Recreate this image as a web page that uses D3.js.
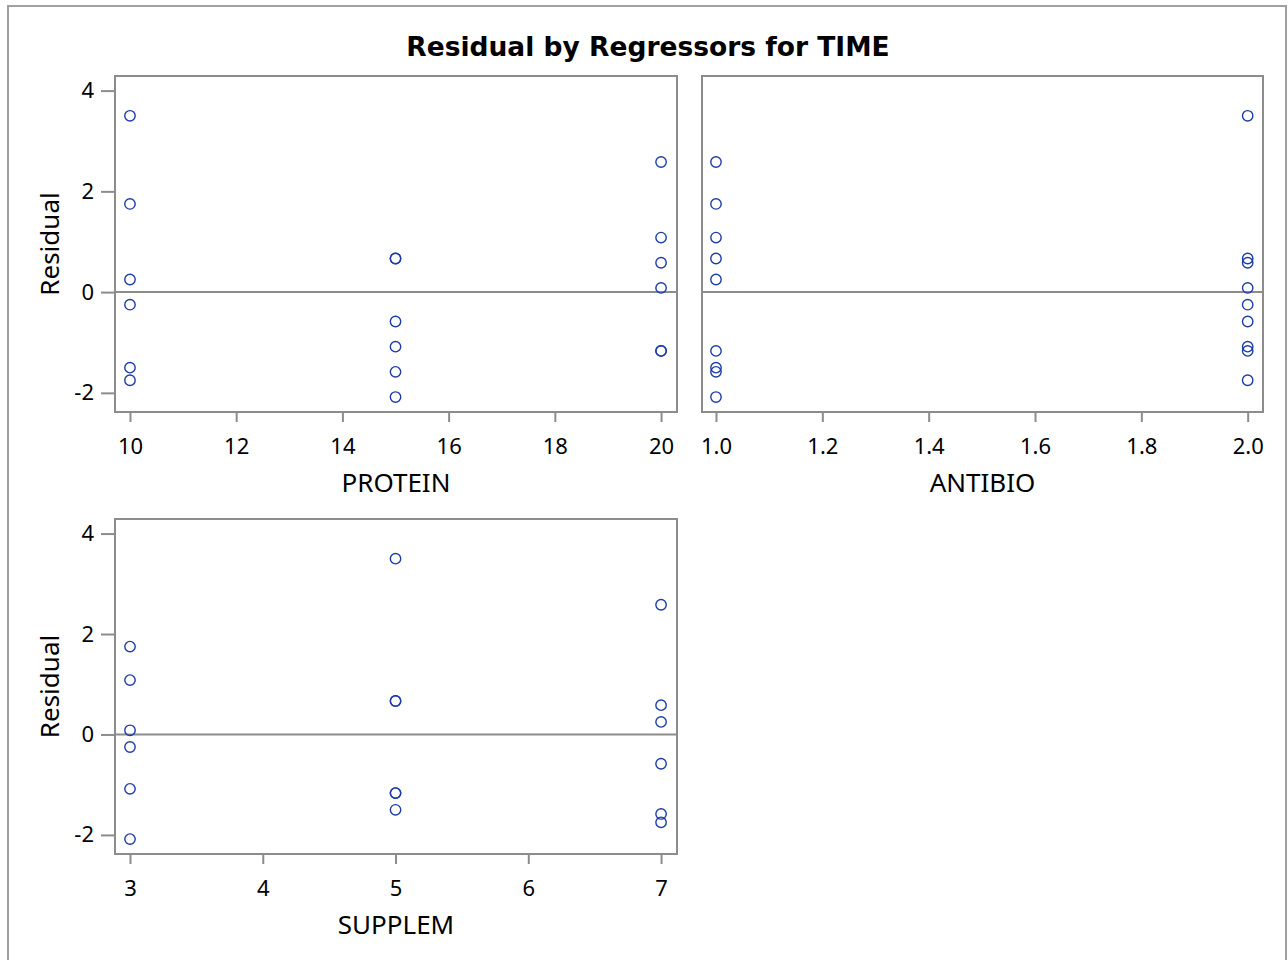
<!DOCTYPE html>
<html>
<head>
<meta charset="utf-8">
<script src="https://cdn.jsdelivr.net/npm/d3@7"></script>
<style>
  html, body { margin: 0; padding: 0; background: #fff; }
  svg { display: block; }
  text { font-family: "Noto Sans", "DejaVu Sans", sans-serif; fill: #000; }
</style>
</head>
<body>
<svg id="chart" width="1288" height="960"></svg>
<script>
// ---- data ----
const titleText = "Residual by Regressors for TIME";
const protein  = [10, 10, 10, 10, 10, 10, 15, 15, 15, 15, 15, 15, 20, 20, 20, 20, 20, 20];
const antibio  = [2, 1, 1, 2, 1, 2, 1, 2, 2, 2, 1, 1, 1, 1, 2, 2, 1, 2];
const supplem  = [5, 3, 7, 3, 5, 7, 5, 5, 7, 3, 7, 3, 7, 3, 7, 3, 5, 5];
const residual = [3.50, 1.75, 0.25, -0.25, -1.50, -1.75,
                  0.667, 0.667, -0.583, -1.083, -1.583, -2.083,
                  2.583, 1.083, 0.583, 0.083, -1.167, -1.167];
const proteinTicks = [10, 12, 14, 16, 18, 20];
const antibioTicks = [1.0, 1.2, 1.4, 1.6, 1.8, 2.0];
const supplemTicks = [3, 4, 5, 6, 7];
const residualTicks = [-2, 0, 2, 4];
const yLabel = "Residual";

// ---- layout ----
const svg = d3.select("#chart");
const font = "'Noto Sans', 'DejaVu Sans', sans-serif";
const frameColor = "#8c8c8c";
const markerColor = "#1c3ca8";

svg.append("rect")
  .attr("x", 8).attr("y", 6).attr("width", 1278).attr("height", 980)
  .attr("fill", "none").attr("stroke", "#a0a0a0").attr("stroke-width", 2);

svg.append("text")
  .attr("x", 648).attr("y", 56)
  .attr("text-anchor", "middle")
  .style("font-family", "'DejaVu Sans', sans-serif")
  .style("font-size", "26.5px").style("font-weight", "bold")
  .text(titleText);

const panels = [
  { xs: protein, ticks: proteinTicks, fmt: d => String(d), label: "PROTEIN",
    xDom: [9.718, 20.30], box: { l: 115, t: 76, r: 677, b: 412 }, showY: true },
  { xs: antibio, ticks: antibioTicks, fmt: d3.format(".1f"), label: "ANTIBIO",
    xDom: [0.9737, 2.0288], box: { l: 702, t: 76, r: 1263, b: 412 }, showY: false },
  { xs: supplem, ticks: supplemTicks, fmt: d => String(d), label: "SUPPLEM",
    xDom: [2.887, 7.12], box: { l: 115, t: 519, r: 677, b: 854 }, showY: true }
];
const yDom = [-2.38, 4.29];

panels.forEach(p => {
  const b = p.box;
  const x = d3.scaleLinear().domain(p.xDom).range([b.l, b.r]);
  const y = d3.scaleLinear().domain(yDom).range([b.b, b.t]);
  const g = svg.append("g");

  // zero reference line
  g.append("line")
    .attr("x1", b.l).attr("x2", b.r)
    .attr("y1", y(0)).attr("y2", y(0))
    .attr("stroke", frameColor).attr("stroke-width", 2);

  // points
  g.selectAll("circle.pt").data(residual.map((r, i) => ({ x: p.xs[i], y: r })))
    .enter().append("circle").attr("class", "pt")
    .attr("cx", d => x(d.x)).attr("cy", d => y(d.y)).attr("r", 5.2)
    .attr("fill", "none").attr("stroke", markerColor).attr("stroke-width", 1.4);

  // frame
  g.append("rect")
    .attr("x", b.l).attr("y", b.t).attr("width", b.r - b.l).attr("height", b.b - b.t)
    .attr("fill", "none").attr("stroke", frameColor).attr("stroke-width", 2);

  // x axis
  const xa = g.append("g").attr("transform", `translate(0,${b.b})`)
    .call(d3.axisBottom(x).tickValues(p.ticks).tickFormat(p.fmt).tickSize(10).tickPadding(16));
  xa.select(".domain").remove();
  xa.selectAll("line").attr("stroke", frameColor).attr("stroke-width", 2);
  xa.selectAll("text").style("font-family", font).style("font-size", "22px").attr("fill", "#000");

  g.append("text")
    .attr("x", (b.l + b.r) / 2).attr("y", b.b + 80)
    .attr("text-anchor", "middle")
    .style("font-size", "26px")
    .text(p.label);

  if (p.showY) {
    const ya = g.append("g").attr("transform", `translate(${b.l},0)`)
      .call(d3.axisLeft(y).tickValues(residualTicks).tickFormat(d => String(d)).tickSize(14).tickPadding(7));
    ya.select(".domain").remove();
    ya.selectAll("line").attr("stroke", frameColor).attr("stroke-width", 2);
    ya.selectAll("text").style("font-family", font).style("font-size", "22px").attr("fill", "#000");

    g.append("text")
      .attr("transform", `translate(59,${(b.t + b.b) / 2}) rotate(-90)`)
      .attr("text-anchor", "middle")
      .style("font-size", "26px")
      .text(yLabel);
  }
});
</script>
</body>
</html>
